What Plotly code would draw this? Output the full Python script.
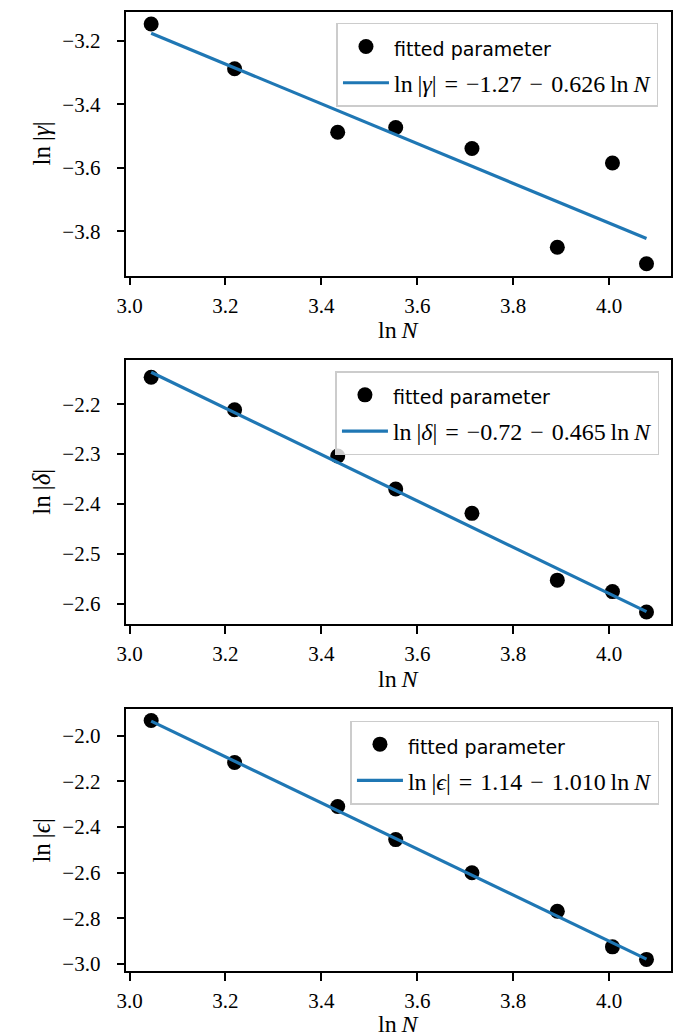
import plotly.graph_objects as go

# ---- data ----
lnN = [3.045, 3.219, 3.434, 3.555, 3.714, 3.892, 4.007, 4.078]
ln_gamma = [-3.147, -3.288, -3.488, -3.473, -3.539, -3.850, -3.585, -3.902]
ln_delta = [-2.146, -2.211, -2.304, -2.370, -2.419, -2.553, -2.576, -2.617]
ln_eps = [-1.933, -2.117, -2.310, -2.455, -2.600, -2.769, -2.925, -2.980]

fit_intercepts = [-1.27, -0.72, 1.14]
fit_slopes = [-0.626, -0.465, -1.010]
S = "\u2009"   # thin space
M = "\u2004"   # three-per-em space
fit_labels = [
    f"ln{S}|<i>γ</i>|{M}={M}−1.27{M}−{M}0.626{S}ln{S}<i>N</i>",
    f"ln{S}|<i>δ</i>|{M}={M}−0.72{M}−{M}0.465{S}ln{S}<i>N</i>",
    f"ln{S}|<i>ϵ</i>|{M}={M}1.14{M}−{M}1.010{S}ln{S}<i>N</i>",
]
ylabels = [f"ln{S}|<i>γ</i>|", f"ln{S}|<i>δ</i>|", f"ln{S}|<i>ϵ</i>|"]
ydticks = [0.2, 0.1, 0.2]
series = [ln_gamma, ln_delta, ln_eps]

W, H = 682, 1036
SERIF = "Liberation Serif, Times New Roman, serif"
SANS = "DejaVu Sans"
BLUE = "#1f77b4"

# panel geometry in pixels (top, bottom)
x_left, x_right = 110, 663
panels_px = [(4, 269), (354, 619), (704, 968)]
legend_px = [(650, 15), (651, 365), (651, 716)]
xlabel_gap = [55, 55, 53]

fig = go.Figure()

def margin_range(vals, frac=0.05):
    lo, hi = min(vals), max(vals)
    d = (hi - lo) * frac
    return [lo - d, hi + d]

xr = margin_range(lnN)
x_end = [lnN[0], lnN[-1]]

for i in range(3):
    k = i + 1
    xa = "x" if k == 1 else f"x{k}"
    ya = "y" if k == 1 else f"y{k}"
    lg = "legend" if k == 1 else f"legend{k}"
    line_y = [fit_intercepts[i] + fit_slopes[i] * v for v in x_end]
    fig.add_trace(go.Scatter(
        x=lnN, y=series[i], mode="markers", xaxis=xa, yaxis=ya,
        marker=dict(color="black", size=15),
        name=f'<span style="font-family:{SANS};font-size:19px">fitted parameter</span>',
        legend=lg, legendgroup=f"pts{k}",
    ))
    fig.add_trace(go.Scatter(
        x=x_end, y=line_y, mode="lines", xaxis=xa, yaxis=ya,
        line=dict(color=BLUE, width=3.2),
        name=fit_labels[i], legend=lg, legendgroup=f"fit{k}",
    ))
    yr = margin_range(series[i] + line_y)
    top, bot = panels_px[i]
    dom_y = [1 - bot / H, 1 - top / H]
    axis_common = dict(
        showline=True, mirror=True, linecolor="black", linewidth=1.5,
        ticks="outside", ticklen=8, tickwidth=1.5, tickcolor="black",
        showgrid=False, zeroline=False, tickformat=".1f",
        tickfont=dict(family=SERIF, size=21, color="black"),
    )
    fig.update_layout(**{
        ("xaxis" if k == 1 else f"xaxis{k}"): dict(
            domain=[x_left / W, x_right / W], range=xr, anchor=ya,
            tick0=3.0, dtick=0.2, ticklabelstandoff=2, **axis_common),
        ("yaxis" if k == 1 else f"yaxis{k}"): dict(
            domain=dom_y, range=yr, anchor=xa,
            tick0=0, dtick=ydticks[i], ticklabelstandoff=12, **axis_common),
    })
    lx, ly = legend_px[i]
    fig.update_layout(**{
        lg: dict(
            x=lx / W, y=1 - ly / H, xanchor="right", yanchor="top",
            xref="paper", yref="paper",
            bgcolor="rgba(255,255,255,0.8)", bordercolor="#cccccc", borderwidth=1.5,
            font=dict(family=SERIF, size=24, color="black"),
            traceorder="grouped", tracegroupgap=2, itemwidth=46,
        )
    })
    # axis titles
    fig.add_annotation(
        x=(x_left + x_right) / 2 / W, y=1 - (bot + xlabel_gap[i]) / H, xref="paper", yref="paper",
        text=f"ln{S}<i>N</i>", showarrow=False, xanchor="center", yanchor="middle",
        font=dict(family=SERIF, size=24, color="black"))
    fig.add_annotation(
        x=24 / W, y=1 - (top + bot) / 2 / H, xref="paper", yref="paper",
        text=ylabels[i], showarrow=False, textangle=-90, xanchor="center", yanchor="middle",
        font=dict(family=SERIF, size=25, color="black"))

fig.update_layout(
    width=W, height=H, margin=dict(l=0, r=0, t=0, b=0),
    paper_bgcolor="white", plot_bgcolor="white", showlegend=True,
)

fig.write_html("out.html")
